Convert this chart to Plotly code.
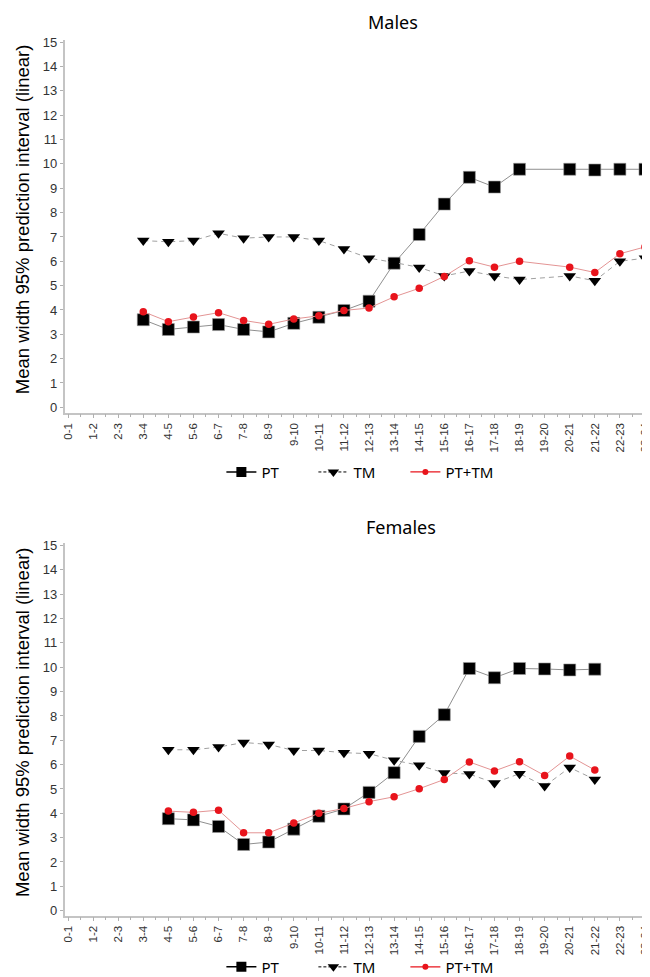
import plotly.graph_objects as go

categories = ["0-1", "1-2", "2-3", "3-4", "4-5", "5-6", "6-7", "7-8", "8-9", "9-10",
              "10-11", "11-12", "12-13", "13-14", "14-15", "15-16", "16-17", "17-18",
              "18-19", "19-20", "20-21", "21-22", "22-23", "23-24"]

males_pt = [None, None, None, 3.6, 3.2, 3.3, 3.4, 3.2, 3.1, 3.45, 3.7, 3.98, 4.36,
            5.92, 7.1, 8.35, 9.45, 9.05, 9.78, None, 9.78, 9.75, 9.78, 9.78]
males_tm = [None, None, None, 6.85, 6.8, 6.85, 7.15, 6.95, 7.0, 7.0, 6.85, 6.5, 6.13,
            5.95, 5.75, 5.4, 5.6, 5.4, 5.25, None, 5.4, 5.2, 6.0, 6.13]
males_pttm = [None, None, None, 3.93, 3.52, 3.71, 3.89, 3.57, 3.41, 3.63, 3.76, 3.98, 4.08,
              4.54, 4.89, 5.38, 6.02, 5.76, 6.0, None, 5.76, 5.54, 6.31, 6.59]

females_pt = [None, None, None, None, 3.78, 3.73, 3.46, 2.72, 2.82, 3.35, 3.88, 4.18, 4.86,
              5.67, 7.16, 8.05, 9.95, 9.57, 9.95, 9.93, 9.89, 9.92, None, None]
females_tm = [None, None, None, None, 6.61, 6.61, 6.72, 6.91, 6.83, 6.58, 6.58, 6.49, 6.45,
              6.18, 5.97, 5.66, 5.61, 5.25, 5.63, 5.12, 5.88, 5.39, None, None]
females_pttm = [None, None, None, None, 4.09, 4.04, 4.13, 3.2, 3.2, 3.6, 4.0, 4.2, 4.48,
                4.68, 5.01, 5.39, 6.11, 5.74, 6.12, 5.55, 6.35, 5.78, None, None]

y_ticks = list(range(0, 16))
series_names = ["PT", "TM", "PT+TM"]

W, H = 650, 977
xpos = list(range(len(categories)))

markers = {
    "PT": dict(symbol="square", size=12, color="black", line=dict(color="#9a9a9a", width=0.6)),
    "TM": dict(symbol="triangle-down", size=11, color="black", line=dict(width=0)),
    "PT+TM": dict(symbol="circle", size=7.5, color="#e8141c", line=dict(width=0)),
}
plot_lines = {
    "PT": dict(color="#8f8f8f", width=1),
    "TM": dict(color="#a0a0a0", width=1, dash="5px,4px"),
    "PT+TM": dict(color="#e39494", width=1),
}
legend_lines = {
    "PT": dict(color="black", width=1.5),
    "TM": dict(color="black", width=1, dash="3px,2px"),
    "PT+TM": dict(color="#e8141c", width=1.2),
}
legend_markers = {
    "PT": dict(symbol="square", size=10, color="black"),
    "TM": dict(symbol="triangle-down", size=10, color="black"),
    "PT+TM": dict(symbol="circle", size=6, color="#e8141c"),
}

fig = go.Figure()
panels = [
    ("x", "y", "legend", [males_pt, males_tm, males_pttm]),
    ("x2", "y2", "legend2", [females_pt, females_tm, females_pttm]),
]
for xa, ya, lg, data in panels:
    for name, vals in zip(series_names, data):
        fig.add_trace(go.Scatter(
            x=xpos, y=vals, name=name, mode="lines+markers",
            line=plot_lines[name], marker=markers[name], connectgaps=True,
            xaxis=xa, yaxis=ya, showlegend=False, hoverinfo="skip"))
    for name in series_names:
        fig.add_trace(go.Scatter(
            x=[None], y=[None], name=name, mode="lines+markers",
            line=legend_lines[name], marker=legend_markers[name],
            xaxis=xa, yaxis=ya, legend=lg, showlegend=True, hoverinfo="skip"))

def px_x(p):
    return p / W

def px_y(p):
    return 1 - p / H

xdom = [px_x(54), px_x(648)]
xaxis_common = dict(
    domain=xdom, range=[-0.13, 23.44], tickmode="array", tickvals=xpos,
    ticktext=categories, tickangle=-90, showgrid=False, zeroline=False,
    showline=True, linecolor="#c4c4c4", linewidth=1.5, ticks="outside",
    ticklen=4, tickcolor="#b0b0b0", tickwidth=1,
    tickfont=dict(family="Liberation Sans, Arial", size=11.5, color="#333333"),
    minor=dict(tickmode="array", tickvals=[i + 0.5 for i in range(-1, 24)],
               ticks="outside", ticklen=3, tickcolor="#b0b0b0"),
)
yaxis_common = dict(
    tickmode="array", tickvals=y_ticks, showgrid=False, zeroline=False,
    showline=True, linecolor="#c4c4c4", linewidth=2, ticks="outside",
    ticklen=3, tickcolor="#b0b0b0",
    tickfont=dict(family="Liberation Sans, Arial", size=13, color="#333333"),
)

legend_common = dict(orientation="h", xanchor="center", yanchor="middle",
                     font=dict(family="Noto Sans", size=15, color="black"),
                     entrywidth=47, entrywidthmode="pixels", bgcolor="rgba(0,0,0,0)",
                     itemwidth=30)

fig.update_layout(
    width=W, height=H, margin=dict(l=0, r=0, t=0, b=0),
    paper_bgcolor="white", plot_bgcolor="white",
    xaxis=dict(anchor="y", **xaxis_common),
    xaxis2=dict(anchor="y2", **xaxis_common),
    yaxis=dict(anchor="x", domain=[px_y(403), px_y(27)], range=[-0.22, 15.1], **yaxis_common),
    yaxis2=dict(anchor="x2", domain=[px_y(910), px_y(534)], range=[-0.2, 15.12], **yaxis_common),
    legend=dict(x=px_x(350), y=px_y(463), **legend_common),
    legend2=dict(x=px_x(350), y=px_y(962), **legend_common),
    showlegend=True,
)

ytitle = "Mean width 95% prediction interval (linear)"
annots = [
    dict(text="Males", x=px_x(384), y=px_y(9), xref="paper", yref="paper",
         showarrow=False, font=dict(family="Noto Sans", size=18, color="black"),
         xanchor="center", yanchor="middle"),
    dict(text="Females", x=px_x(392), y=px_y(518), xref="paper", yref="paper",
         showarrow=False, font=dict(family="Noto Sans", size=18, color="black"),
         xanchor="center", yanchor="middle"),
    dict(text=ytitle, x=px_x(11), y=px_y(208),
         xref="paper", yref="paper", showarrow=False, textangle=-90,
         font=dict(family="Liberation Sans, Arial", size=18.5, color="black"),
         xanchor="center", yanchor="middle"),
    dict(text=ytitle, x=px_x(11), y=px_y(715),
         xref="paper", yref="paper", showarrow=False, textangle=-90,
         font=dict(family="Liberation Sans, Arial", size=18.5, color="black"),
         xanchor="center", yanchor="middle"),
]
fig.update_layout(annotations=annots)

fig.write_html("out.html")
